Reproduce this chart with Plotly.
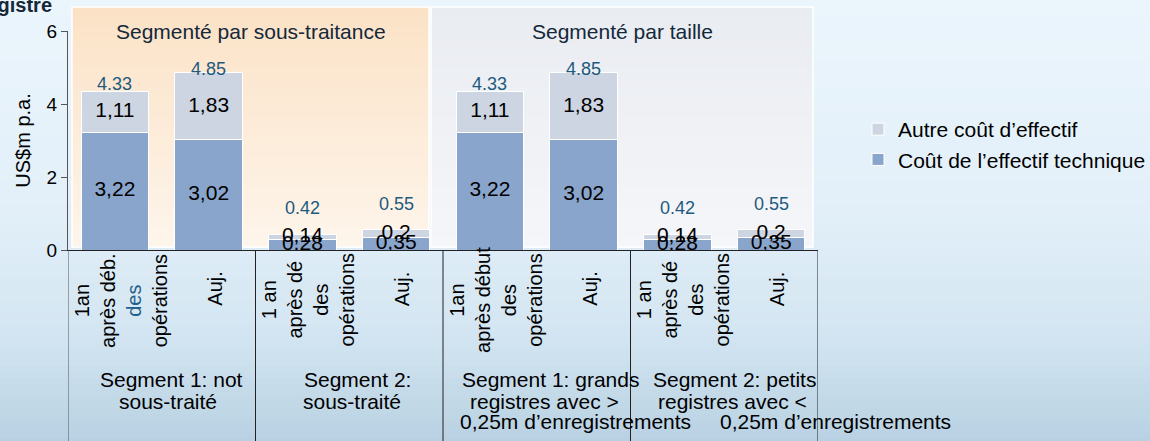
import plotly.graph_objects as go

# ---------------- data ----------------
categories = [
    "1an<br>après déb.<br><span style='color:#1f5f8b'>des</span><br>opérations",
    "Auj.",
    "1 an<br>après dé<br>des<br>opérations",
    "Auj.",
    "1an<br>après début<br>des<br>opérations",
    "Auj.",
    "1 an<br>après dé<br>des<br>opérations",
    "Auj.",
]
group_labels = [
    ["Segment 1: not", "sous-traité"],
    ["Segment 2:", "sous-traité"],
    ["Segment 1: grands", "registres avec >", "0,25m d’enregistrements"],
    ["Segment 2: petits", "registres avec <", "0,25m d’enregistrements"],
]
panel_titles = ["Segmenté par sous-traitance", "Segmenté par taille"]
series_names = ["Coût de l’effectif technique", "Autre coût d’effectif"]
technique = [3.22, 3.02, 0.28, 0.35, 3.22, 3.02, 0.28, 0.35]
autre = [1.11, 1.83, 0.14, 0.2, 1.11, 1.83, 0.14, 0.2]
totals = [4.33, 4.85, 0.42, 0.55, 4.33, 4.85, 0.42, 0.55]
y_ticks = [0, 2, 4, 6]

# ---------------- layout constants ----------------
W, H = 1150, 441
L, R, T, B = 68, 818, 31, 250          # plot area in px
FONT = "Liberation Sans, Arial, sans-serif"
C_TECH = "#8aa5cb"
C_AUTRE = "#cdd5e2"
C_TOTAL = "#1f5a7e"


def px(p):
    return (p - L) / (R - L)


def py(p):
    return (B - p) / (B - T)


def lerp(c1, c2, t):
    return tuple(round(a + (b - a) * t) for a, b in zip(c1, c2))


def grad(stops, p):
    for (p1, c1), (p2, c2) in zip(stops, stops[1:]):
        if p1 <= p <= p2:
            return lerp(c1, c2, (p - p1) / (p2 - p1))
    return stops[-1][1]


def rgb(c):
    return "rgb(%d,%d,%d)" % c


shapes = []
# page background gradient
bg_stops = [(0, (235, 245, 252)), (200, (227, 240, 249)), (330, (212, 230, 242)), (441, (184, 209, 226))]
step = 6
for y0 in range(0, H, step):
    c = grad(bg_stops, y0 + step / 2)
    shapes.append(dict(type="rect", xref="paper", yref="paper", layer="below",
                       x0=px(-5), x1=px(W + 5), y0=py(y0 + step + 0.5), y1=py(y0),
                       fillcolor=rgb(c), line=dict(width=0)))

# panels (gradient strips)
panels = [((72, 429), (251, 226, 198), (254, 245, 235)),
          ((431, 813), (233, 236, 241), (245, 246, 249))]
ptop, pbot = 7, 247
for (x0, x1), ctop, cbot in panels:
    n = 24
    h = (pbot - ptop) / n
    for i in range(n):
        c = lerp(ctop, cbot, (i + 0.5) / n)
        shapes.append(dict(type="rect", xref="paper", yref="paper", layer="below",
                           x0=px(x0), x1=px(x1), y0=py(ptop + (i + 1) * h + 0.5), y1=py(ptop + i * h),
                           fillcolor=rgb(c), line=dict(width=0)))
    shapes.append(dict(type="rect", xref="paper", yref="paper", layer="below",
                       x0=px(x0), x1=px(x1), y0=py(pbot), y1=py(ptop),
                       fillcolor="rgba(0,0,0,0)", line=dict(color="white", width=1.5)))

# group dividers below the axis
for k, xd in enumerate([-0.5, 1.5, 3.5, 5.5, 7.5]):
    shapes.append(dict(type="line", xref="x", yref="paper", layer="above",
                       x0=xd, x1=xd, y0=0, y1=py(H + 2),
                       line=dict(color="#555555" if k == 0 else "#222222", width=1)))

xs = list(range(len(technique)))
fig = go.Figure()
fig.add_trace(go.Bar(x=xs, y=technique, name=series_names[0], marker=dict(color=C_TECH, line=dict(color="white", width=1)),
                     width=0.72, hoverinfo="skip"))
fig.add_trace(go.Bar(x=xs, y=autre, name=series_names[1], marker=dict(color=C_AUTRE, line=dict(color="white", width=1)),
                     width=0.72, hoverinfo="skip"))


def fmt(v):
    return ("%g" % v).replace(".", ",")


fig.add_trace(go.Scatter(x=xs, y=[v / 2 for v in technique], mode="text", text=[fmt(v) for v in technique],
                         textfont=dict(size=21, color="black", family=FONT), showlegend=False, hoverinfo="skip"))
fig.add_trace(go.Scatter(x=xs, y=[t + a / 2 for t, a in zip(technique, autre)], mode="text",
                         text=[fmt(v) for v in autre],
                         textfont=dict(size=21, color="black", family=FONT), showlegend=False, hoverinfo="skip"))

annotations = []
# totals
total_shift = [8, 4, 27, 26, 8, 4, 27, 26]
for i, t in enumerate(totals):
    annotations.append(dict(x=i, y=t, xref="x", yref="y", text="%.2f" % t, showarrow=False,
                            yanchor="middle", yshift=total_shift[i],
                            font=dict(size=18, color=C_TOTAL, family=FONT)))

# rotated category labels
for i, lab in enumerate(categories):
    center = 300 if "<br>" in lab else 289
    annotations.append(dict(x=i, y=py(center), xref="x", yref="paper", text=lab, showarrow=False,
                            textangle=-90, align="center", xanchor="center", yanchor="middle", xshift=6,
                            font=dict(size=20, color="black", family=FONT)))

# group labels (one annotation per line)
line_y = [379, 401, 421]
line_xshift = [[10, 6], [8, 3], [14, 8, 39], [10, 8, 111]]
for g, lines in enumerate(group_labels):
    for j, txt in enumerate(lines):
        annotations.append(dict(x=2 * g + 0.5, y=py(line_y[j]), xref="x", yref="paper", text=txt,
                                showarrow=False, xanchor="center", yanchor="middle", xshift=line_xshift[g][j],
                                font=dict(size=21, color="black", family=FONT)))

# panel titles
for k, ttl in enumerate(panel_titles):
    (x0, x1) = panels[k][0]
    annotations.append(dict(x=px((x0 + x1) / 2), y=py(31), xref="paper", yref="paper", text=ttl,
                            showarrow=False, xanchor="center", yanchor="middle",
                            font=dict(size=21, color="#14283a", family=FONT)))

# clipped top-left title
annotations.append(dict(x=px(54), y=py(5), xref="paper", yref="paper", text="<b>Registre</b>",
                        showarrow=False, xanchor="right", yanchor="middle",
                        font=dict(size=20, color="#16283a", family=FONT)))

fig.update_layout(
    width=W, height=H, autosize=False,
    margin=dict(l=L, r=W - R, t=T, b=H - B, pad=0, autoexpand=False),
    barmode="stack", bargap=0.28,
    paper_bgcolor="rgb(225,238,248)", plot_bgcolor="rgba(0,0,0,0)",
    font=dict(family=FONT, size=20, color="black"),
    shapes=shapes, annotations=annotations,
    showlegend=True,
    legend=dict(x=px(858), y=py(109), xanchor="left", yanchor="top", traceorder="reversed",
                bgcolor="rgba(0,0,0,0)", font=dict(size=21, color="black", family=FONT),
                itemclick=False, itemdoubleclick=False),
    xaxis=dict(range=[-0.5, 7.5], showticklabels=False, ticks="", showgrid=False, zeroline=False,
               showline=True, linecolor="#222222", linewidth=1, fixedrange=True),
    yaxis=dict(range=[0, 6], tickvals=y_ticks, ticks="outside", ticklen=6, tickcolor="#555555",
               showline=True, linecolor="#555555", linewidth=1, showgrid=False, zeroline=False,
               tickfont=dict(size=19, color="black", family=FONT),
               title=dict(text="US$m p.a.", font=dict(size=20, color="black", family=FONT), standoff=10),
               automargin=False, fixedrange=True),
)

fig.write_html("out.html", config={"displayModeBar": False},
               post_script="document.body.style.margin='0';document.body.style.overflow='hidden';")
